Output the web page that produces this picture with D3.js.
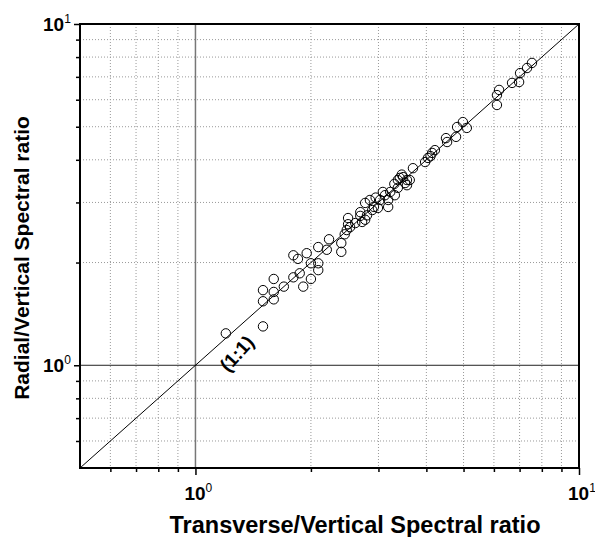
<!DOCTYPE html>
<html>
<head>
<meta charset="utf-8">
<script src="https://cdn.jsdelivr.net/npm/d3@7"></script>
<style>
  body { margin: 0; background: #fff; }
  svg { font-family: "Liberation Sans", Arial, sans-serif; }
</style>
</head>
<body>
<svg id="chart"></svg>
<script>
// transverse/vertical vs radial/vertical spectral ratio
const transverse = [
  1.20, 1.50, 1.50, 1.50, 1.60, 1.60, 1.60, 1.70, 1.80, 1.87,
  1.91, 2.00, 1.80, 1.85, 1.95, 2.00, 2.09, 2.09, 2.09, 2.20,
  2.23, 2.40, 2.40, 2.48, 2.50, 2.50, 2.61, 2.69, 2.72, 2.69,
  2.77, 2.77, 2.85, 2.89, 2.92, 2.99, 3.03, 3.12, 3.22, 3.18,
  3.18, 3.08, 3.31, 3.37, 3.37, 3.41, 3.48, 3.52, 3.56, 3.56,
  3.62, 3.69, 3.97, 4.04, 4.14, 4.21, 4.50, 4.53, 4.78, 4.81,
  4.98, 5.10, 6.11, 6.11, 6.19, 6.69, 6.98, 7.02, 7.32, 7.54,
  2.53, 2.45, 3.30, 2.80, 3.45, 2.95, 4.10
];
const radial = [
  1.24, 1.30, 1.54, 1.66, 1.79, 1.64, 1.56, 1.70, 1.81, 1.86,
  1.70, 1.79, 2.10, 2.05, 2.13, 1.99, 1.90, 2.22, 1.99, 2.18,
  2.34, 2.28, 2.15, 2.49, 2.59, 2.70, 2.61, 2.74, 2.63, 2.81,
  2.99, 2.67, 3.05, 2.85, 2.91, 2.89, 3.05, 3.15, 3.22, 3.05,
  2.91, 3.22, 3.15, 3.31, 3.49, 3.54, 3.56, 3.42, 3.49, 3.37,
  3.49, 3.78, 3.94, 4.05, 4.19, 4.27, 4.63, 4.51, 4.67, 4.99,
  5.16, 4.96, 5.79, 6.19, 6.41, 6.72, 6.76, 7.18, 7.43, 7.69,
  2.54, 2.42, 3.40, 2.75, 3.62, 3.10, 4.10
];
const domain = [0.5, 10];
const majorTicks = [1, 10];
const minorTicks = [0.6, 0.7, 0.8, 0.9, 2, 3, 4, 5, 6, 7, 8, 9];
const xTitle = "Transverse/Vertical Spectral ratio";
const yTitle = "Radial/Vertical Spectral ratio";

const W = 595, H = 537;
const m = {top: 24, right: 16, bottom: 69, left: 80};
const w = W - m.left - m.right, h = H - m.top - m.bottom;

const svg = d3.select("#chart").attr("width", W).attr("height", H);
const g = svg.append("g").attr("transform", "translate(" + m.left + "," + m.top + ")");

const x = d3.scaleLog().domain(domain).range([0, w]);
const y = d3.scaleLog().domain(domain).range([h, 0]);

// dotted minor grid
g.selectAll("line.vgrid").data(minorTicks).enter().append("line")
  .attr("x1", d => x(d)).attr("x2", d => x(d)).attr("y1", 0).attr("y2", h)
  .attr("stroke", "#999").attr("stroke-dasharray", "1,2");
g.selectAll("line.hgrid").data(minorTicks).enter().append("line")
  .attr("y1", d => y(d)).attr("y2", d => y(d)).attr("x1", 0).attr("x2", w)
  .attr("stroke", "#999").attr("stroke-dasharray", "1,2");

// solid lines at 10^0
g.append("line").attr("x1", x(1)).attr("x2", x(1)).attr("y1", 0).attr("y2", h)
  .attr("stroke", "#777").attr("stroke-width", 1.5);
g.append("line").attr("y1", y(1)).attr("y2", y(1)).attr("x1", 0).attr("x2", w)
  .attr("stroke", "#222").attr("stroke-width", 1);

// 1:1 line
g.append("line")
  .attr("x1", x(domain[0])).attr("y1", y(domain[0]))
  .attr("x2", x(domain[1])).attr("y2", y(domain[1]))
  .attr("stroke", "#000").attr("stroke-width", 1);

// points
g.selectAll("circle").data(transverse).enter().append("circle")
  .attr("cx", d => x(d))
  .attr("cy", (d, i) => y(radial[i]))
  .attr("r", 4.7)
  .attr("fill", "none").attr("stroke", "#000").attr("stroke-width", 1);

// axes
g.append("g").attr("transform", "translate(0," + h + ")")
  .call(d3.axisBottom(x).tickValues(minorTicks).tickSize(4).tickFormat(""));
g.append("g").attr("transform", "translate(0," + h + ")")
  .call(d3.axisBottom(x).tickValues(majorTicks).tickSize(7).tickFormat(""));
g.append("g")
  .call(d3.axisLeft(y).tickValues(minorTicks).tickSize(4).tickFormat(""));
g.append("g")
  .call(d3.axisLeft(y).tickValues(majorTicks).tickSize(6).tickFormat(""));
g.selectAll(".domain").remove();
g.selectAll(".tick line").attr("stroke", "#000").attr("stroke-width", 1.5);

// frame
g.append("rect").attr("width", w).attr("height", h)
  .attr("fill", "none").attr("stroke", "#000").attr("stroke-width", 2);

// tick labels 10^n
function powLabel(sel, n) {
  sel.append("tspan").attr("font-size", 19).attr("font-weight", "bold").text("10");
  sel.append("tspan").attr("font-size", 12).attr("dy", -8).text(n);
}
majorTicks.forEach(v => {
  const n = Math.round(Math.log10(v));
  powLabel(g.append("text").attr("x", x(v) - 11).attr("y", h + 32), n);
  powLabel(g.append("text").attr("x", -37).attr("y", y(v) + 7), n);
});

// 1:1 label
g.append("text")
  .attr("transform", "translate(" + x(1.32) + "," + y(1.05) + ") rotate(-48)")
  .attr("text-anchor", "middle")
  .attr("font-size", 19).attr("font-weight", "bold")
  .text("(1:1)");

// titles
svg.append("text")
  .attr("x", 355).attr("y", 533)
  .attr("text-anchor", "middle")
  .attr("font-size", 23.5).attr("font-weight", "bold")
  .text(xTitle);
svg.append("text")
  .attr("transform", "translate(29," + (m.top + h / 2 + 12) + ") rotate(-90)")
  .attr("text-anchor", "middle")
  .attr("font-size", 21).attr("font-weight", "bold")
  .text(yTitle);
</script>
</body>
</html>
